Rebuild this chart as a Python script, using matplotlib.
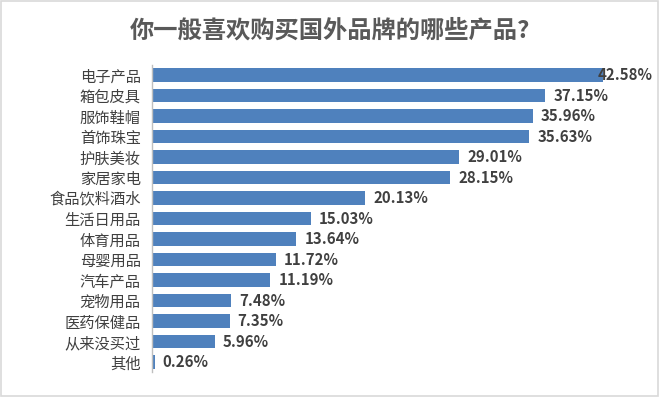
import matplotlib
matplotlib.use("Agg")
import matplotlib.pyplot as plt
from matplotlib.patches import Rectangle

plt.rcParams['font.family'] = ['Noto Sans CJK SC', 'DejaVu Sans']
plt.rcParams['axes.unicode_minus'] = False

# =========================================================
# 数据
# =========================================================
categories = ["电子产品", "箱包皮具", "服饰鞋帽", "首饰珠宝", "护肤美妆", "家居家电",
              "食品饮料酒水", "生活日用品", "体育用品", "母婴用品", "汽车产品",
              "宠物用品", "医药保健品", "从来没买过", "其他"]
values = [42.58, 37.15, 35.96, 35.63, 29.01, 28.15, 20.13, 15.03, 13.64,
          11.72, 11.19, 7.48, 7.35, 5.96, 0.26]
title = "你一般喜欢购买国外品牌的哪些产品?"

bar_color = "#4F81BD"
text_color = "#404040"

# =========================================================
# 绘图
# =========================================================
fig = plt.figure(figsize=(6.6, 3.97), dpi=100)
fig.patches.append(Rectangle((0.002, 0.003), 0.995, 0.994, transform=fig.transFigure,
                             fill=False, edgecolor="#D9D9D9", linewidth=1.2))

ax = fig.add_axes([0.230, 0.0623, 0.737, 0.7746])
y = list(range(len(categories)))
ax.barh(y, values, height=0.68, color=bar_color)
ax.set_xlim(0, 45.9)
ax.set_ylim(len(categories) - 0.5, -0.5)

ax.set_yticks(y)
ax.set_yticklabels(categories, fontsize=11, color=text_color)
ax.tick_params(axis="y", length=0, pad=8)
ax.set_xticks([])

for s in ["top", "right", "bottom"]:
    ax.spines[s].set_visible(False)
ax.spines["left"].set_color("#BFBFBF")
ax.spines["left"].set_linewidth(1)

for yi, v in zip(y, values):
    xpos = v + 0.75 if v < 40 else v - 0.5
    ax.text(xpos, yi, f"{v:.2f}%", va="center", ha="left", fontsize=10.8,
            fontweight="bold", color=text_color)

fig.text(0.5, 0.922, title, ha="center", va="center", fontsize=17.5,
         fontweight="bold", color="#595959")

fig.savefig("out.png", dpi=100)
